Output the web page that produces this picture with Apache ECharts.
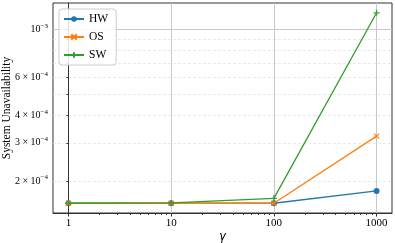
<!DOCTYPE html>
<html><head><meta charset="utf-8">
<script src="https://cdn.jsdelivr.net/npm/echarts@6/dist/echarts.min.js"></script>
<style>html,body{margin:0;padding:0;background:#fff}#c{width:395px;height:243px}</style>
</head><body><div id="c"></div>
<script>
// ---- data ----
const gammas = [1, 10, 100, 1000];
const hw = [1.58e-4, 1.58e-4, 1.58e-4, 1.80e-4];
const os = [1.58e-4, 1.58e-4, 1.58e-4, 3.22e-4];
const sw = [1.58e-4, 1.585e-4, 1.665e-4, 1.19e-3];
const xMajorTicks = [1, 10, 100, 1000];
const xMinorTicks = [2,3,4,5,6,7,8,9,20,30,40,50,60,70,80,90,200,300,400,500,600,700,800,900];
const yMajorTicks = [1e-3];
const yLabelTicks = [2e-4, 3e-4, 4e-4, 6e-4, 1e-3];
const yMinorTicks = [2e-4, 3e-4, 4e-4, 5e-4, 6e-4, 7e-4, 8e-4, 9e-4];
const xRange = [0.7079, 1412.5];
const yRange = [1.425e-4, 1.32e-3];

const L = Math.log10;
const pts = arr => gammas.map((g, i) => [L(g), L(arr[i])]);
const serif = 'Liberation Serif';
const axCol = '#333';

function yFmt(v) {
  const val = Math.pow(10, v);
  const e = Math.floor(v + 1e-9);
  const m = Math.round(val / Math.pow(10, e));
  return (m === 1 ? '{b|10}' : '{b|' + m + ' × 10}') + '{s|−' + (-e) + '}';
}

const chart = echarts.init(document.getElementById('c'), null, {renderer: 'canvas'});
chart.setOption({
  animation: false,
  backgroundColor: '#fff',
  grid: {left: 53, right: 3, top: 3, bottom: 30, containLabel: false, outerBoundsMode: 'none',
         show: true, borderColor: axCol, borderWidth: 1, backgroundColor: 'transparent'},
  legend: {
    orient: 'vertical', left: 59, top: 9,
    backgroundColor: 'rgba(255,255,255,0.85)', borderColor: '#cccccc', borderWidth: 1, borderRadius: 3,
    padding: [4, 8, 4, 4], itemWidth: 20, itemHeight: 7, itemGap: 6,
    textStyle: {fontFamily: serif, fontSize: 11.5, color: '#000'},
    data: ['HW', 'OS', 'SW']
  },
  xAxis: [
    {
      type: 'value', min: L(xRange[0]), max: L(xRange[1]),
      name: 'γ', nameLocation: 'middle', nameGap: 18, nameMoveOverlap: false,
      nameTextStyle: {fontFamily: 'DejaVu Sans', fontStyle: 'italic', fontSize: 11.5, color: '#000'},
      axisLine: {lineStyle: {color: axCol, width: 1}},
      axisTick: {customValues: xMajorTicks.map(L), length: 3.5, lineStyle: {color: axCol}},
      axisLabel: {customValues: xMajorTicks.map(L), margin: 5, fontFamily: serif, fontSize: 11, color: '#000',
        formatter: v => String(Math.round(Math.pow(10, v)))},
      splitLine: {show: true, lineStyle: {color: '#c8c8c8', width: 1}}
    },
    {
      type: 'value', min: L(xRange[0]), max: L(xRange[1]), position: 'bottom',
      axisLine: {show: false},
      axisTick: {customValues: xMinorTicks.map(L), length: 2, lineStyle: {color: axCol}},
      axisLabel: {show: false}, splitLine: {show: false}
    }
  ],
  yAxis: [
    {
      type: 'value', min: L(yRange[0]), max: L(yRange[1]),
      name: 'System Unavailability', nameLocation: 'middle', nameGap: 40, nameMoveOverlap: false,
      nameTextStyle: {fontFamily: serif, fontSize: 11.5, color: '#000'},
      axisLine: {show: true, lineStyle: {color: axCol, width: 1}},
      axisTick: {customValues: yMajorTicks.map(L), length: 3.5, lineStyle: {color: axCol}},
      axisLabel: {customValues: yLabelTicks.map(L), margin: 5, formatter: yFmt,
        rich: {b: {fontFamily: serif, fontSize: 10, color: '#000'},
               s: {fontFamily: serif, fontSize: 7, color: '#000', padding: [0, 0, 7, 0]}}},
      splitLine: {show: true, lineStyle: {color: '#c8c8c8', width: 1}}
    },
    {
      type: 'value', min: L(yRange[0]), max: L(yRange[1]), position: 'left',
      axisLine: {show: false},
      axisTick: {show: true, customValues: yMinorTicks.map(L), length: 2, lineStyle: {color: axCol}},
      axisLabel: {show: false},
      splitLine: {show: true, lineStyle: {color: '#e4e4e4', width: 0.8, type: [3, 2]}}
    }
  ],
  series: [
    {name: 'HW', type: 'line', data: pts(hw), color: '#1f77b4', symbol: 'circle', symbolSize: 6,
     lineStyle: {width: 1.3}, itemStyle: {color: '#1f77b4'}, z: 3},
    {name: 'OS', type: 'line', data: pts(os), color: '#ff7f0e', symbol: 'path://M0,0L10,10M10,0L0,10', symbolSize: 5,
     lineStyle: {width: 1.3}, itemStyle: {color: '#ff7f0e', borderColor: '#ff7f0e', borderWidth: 1.2}, z: 4},
    {name: 'SW', type: 'line', data: pts(sw), color: '#2ca02c', symbol: 'path://M5,0L5,10M0,5L10,5', symbolSize: 6,
     lineStyle: {width: 1.3}, itemStyle: {color: '#2ca02c', borderColor: '#2ca02c', borderWidth: 1.2}, z: 5}
  ]
});
</script></body></html>
